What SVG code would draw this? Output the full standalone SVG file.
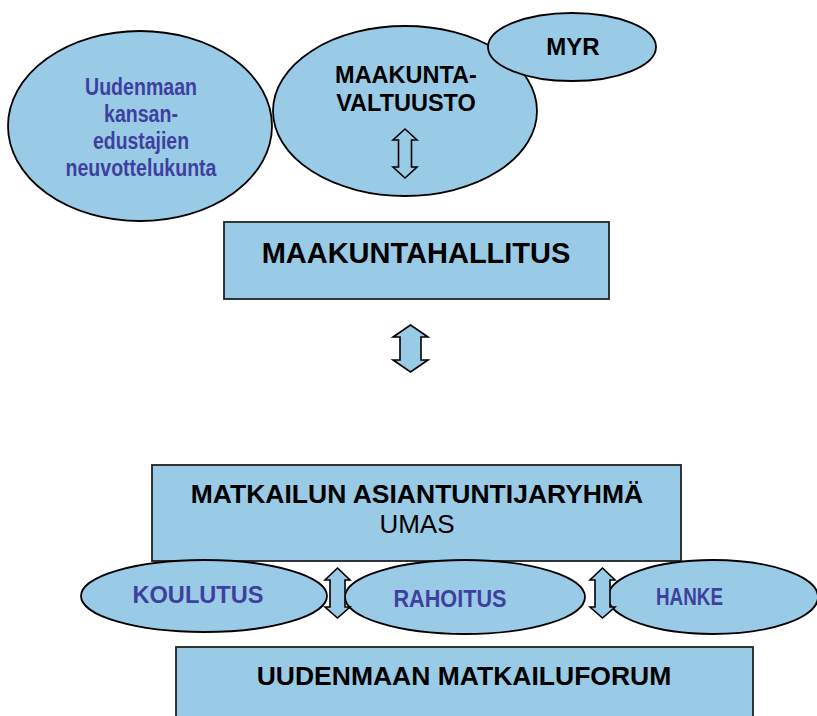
<svg xmlns="http://www.w3.org/2000/svg" width="817" height="716" viewBox="0 0 817 716">
<style>
.sh{fill:#9acbe6;stroke:#000;stroke-width:1.8}
.bx{fill:#9acbe6;stroke:#222;stroke-width:1.8}
.bk{font-family:"Liberation Sans",Arial,sans-serif;font-weight:bold;fill:#000;text-anchor:middle}
.rg{font-family:"Liberation Sans",Arial,sans-serif;fill:#000;text-anchor:middle}
.bl{font-family:"Liberation Sans",Arial,sans-serif;font-weight:bold;fill:#3f3fa0;text-anchor:middle;font-size:23.5px}
.ar{fill:#9acbe6;stroke:#000;stroke-width:1.6;stroke-linejoin:miter}
</style>
<rect width="817" height="716" fill="#fff"/>
<g id="neuvottelukunta">
<ellipse class="sh" cx="140" cy="126" rx="132" ry="95"/>
<text class="bl" x="141" y="95" textLength="112" lengthAdjust="spacingAndGlyphs">Uudenmaan</text>
<text class="bl" x="141" y="122" textLength="74" lengthAdjust="spacingAndGlyphs">kansan-</text>
<text class="bl" x="141" y="149" textLength="96" lengthAdjust="spacingAndGlyphs">edustajien</text>
<text class="bl" x="141" y="176" textLength="151" lengthAdjust="spacingAndGlyphs">neuvottelukunta</text>
</g>
<g id="maakuntavaltuusto">
<ellipse class="sh" cx="405" cy="111" rx="132" ry="85"/>
<text class="bk" x="406" y="83" font-size="23.5">MAAKUNTA-</text>
<text class="bk" x="406" y="111" font-size="23.5">VALTUUSTO</text>
</g>
<g id="myr">
<ellipse class="sh" cx="572" cy="47" rx="84" ry="34"/>
<text class="bk" x="573" y="55" font-size="24">MYR</text>
</g>
<g id="maakuntahallitus">
<rect class="bx" x="224" y="222" width="385" height="77"/>
<text class="bk" x="416" y="263" font-size="29">MAAKUNTAHALLITUS</text>
</g>
<g id="umas">
<rect class="bx" x="152" y="465" width="529" height="96"/>
<text class="bk" x="417" y="503" font-size="26.5">MATKAILUN ASIANTUNTIJARYHMÄ</text>
<text class="rg" x="417" y="533" font-size="26">UMAS</text>
</g>
<g id="forum">
<rect class="bx" x="176" y="647" width="577" height="90"/>
<text class="bk" x="464" y="685" font-size="26.5">UUDENMAAN MATKAILUFORUM</text>
</g>
<g id="koulutus">
<ellipse class="sh" cx="204" cy="596" rx="123" ry="36"/>
<text class="bl" x="198" y="603" textLength="131" lengthAdjust="spacingAndGlyphs">KOULUTUS</text>
</g>
<g id="rahoitus">
<ellipse class="sh" cx="465" cy="597" rx="120" ry="37"/>
<text class="bl" x="450" y="607" textLength="113" lengthAdjust="spacingAndGlyphs">RAHOITUS</text>
</g>
<g id="hanke">
<ellipse class="sh" cx="713" cy="597" rx="105" ry="37"/>
<text class="bl" x="689.5" y="605" textLength="67" lengthAdjust="spacingAndGlyphs">HANKE</text>
</g>
<g id="connectors">
<path class="ar" d="M405,129 L417,140 L411.5,140 L411.5,167 L417,167 L405,178 L393,167 L398.5,167 L398.5,140 L393,140 Z"/>
<path class="ar" d="M410.5,325 L428,337 L421,337 L421,360 L428,360 L410.5,372 L393,360 L400,360 L400,337 L393,337 Z"/>
<path class="ar" d="M337.5,568 L350,580 L345,580 L345,607 L350,607 L337.5,618 L325,607 L330,607 L330,580 L325,580 Z"/>
<path class="ar" d="M602.5,568 L615,580 L610,580 L610,607 L615,607 L602.5,618 L590,607 L595,607 L595,580 L590,580 Z"/>
</g>
</svg>
